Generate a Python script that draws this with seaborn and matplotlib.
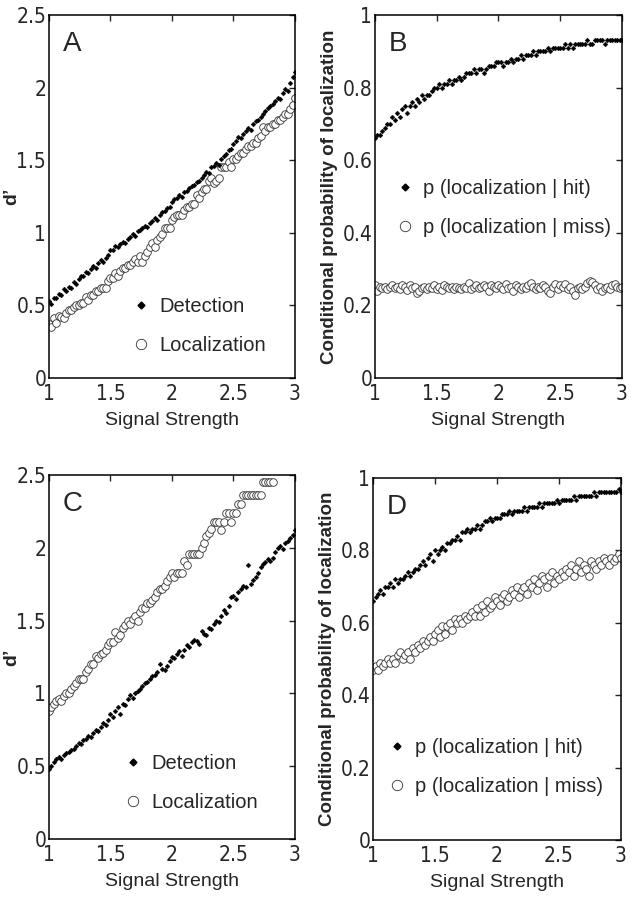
import numpy as np
import pandas as pd
import seaborn as sns
import matplotlib.pyplot as plt
from matplotlib import font_manager as fm
from matplotlib.lines import Line2D
from matplotlib.ticker import FuncFormatter

# signal strength grid (1 to 3, step 0.02)
signal = np.round(np.linspace(1, 3, 101), 2)

# panel A: d'
det_a = [0.53, 0.51, 0.55, 0.55, 0.58, 0.57, 0.61, 0.60, 0.63, 0.62, 0.66, 0.65, 0.68,
         0.70, 0.70, 0.73, 0.72, 0.75, 0.77, 0.76, 0.79, 0.81, 0.80, 0.83, 0.85, 0.88,
         0.88, 0.91, 0.90, 0.92, 0.94, 0.93, 0.96, 0.97, 0.99, 0.98, 1.01, 1.02,
         1.03, 1.05, 1.04, 1.07, 1.08, 1.10, 1.09, 1.12, 1.14, 1.15, 1.17, 1.18, 1.21,
         1.23, 1.24, 1.26, 1.25, 1.28, 1.29, 1.31, 1.32, 1.33, 1.35, 1.36, 1.38,
         1.40, 1.42, 1.41, 1.45, 1.46, 1.48, 1.47, 1.51, 1.53, 1.54, 1.57, 1.58, 1.61,
         1.63, 1.66, 1.65, 1.68, 1.70, 1.72, 1.71, 1.75, 1.77, 1.78, 1.80, 1.82,
         1.84, 1.86, 1.87, 1.89, 1.91, 1.93, 1.92, 1.96, 1.99, 1.98, 2.03, 2.07, 2.11]
loc_a = [0.37, 0.35, 0.41, 0.38, 0.43, 0.42, 0.41, 0.45, 0.47, 0.47, 0.49, 0.50, 0.50,
         0.52, 0.52, 0.56, 0.54, 0.57, 0.57, 0.60, 0.60, 0.62, 0.62, 0.62, 0.67, 0.69,
         0.69, 0.72, 0.70, 0.74, 0.76, 0.76, 0.78, 0.78, 0.80, 0.82, 0.80, 0.84,
         0.80, 0.84, 0.87, 0.90, 0.93, 0.90, 0.95, 0.97, 0.99, 1.03, 1.03, 1.03, 1.09,
         1.11, 1.12, 1.12, 1.12, 1.16, 1.18, 1.18, 1.20, 1.20, 1.26, 1.24, 1.28,
         1.30, 1.30, 1.36, 1.38, 1.34, 1.36, 1.38, 1.45, 1.45, 1.45, 1.49, 1.45, 1.51,
         1.51, 1.53, 1.55, 1.55, 1.58, 1.60, 1.60, 1.62, 1.62, 1.65, 1.67, 1.73,
         1.70, 1.73, 1.73, 1.75, 1.75, 1.78, 1.78, 1.80, 1.82, 1.82, 1.85, 1.88, 1.93]

# panel B: conditional probability
hit_b = [0.66, 0.67, 0.67, 0.68, 0.69, 0.70, 0.70, 0.72, 0.71, 0.73, 0.72, 0.74, 0.75,
         0.73, 0.75, 0.76, 0.75, 0.77, 0.76, 0.78, 0.77, 0.78, 0.78, 0.79, 0.80, 0.80,
         0.81, 0.80, 0.81, 0.81, 0.82, 0.81, 0.82, 0.82, 0.83, 0.82, 0.83, 0.84,
         0.84, 0.84, 0.85, 0.84, 0.85, 0.85, 0.84, 0.85, 0.86, 0.86, 0.86, 0.87, 0.87,
         0.87, 0.86, 0.87, 0.87, 0.88, 0.87, 0.88, 0.88, 0.89, 0.88, 0.89, 0.89,
         0.89, 0.90, 0.89, 0.90, 0.90, 0.90, 0.90, 0.91, 0.90, 0.91, 0.91, 0.91, 0.91,
         0.91, 0.92, 0.91, 0.92, 0.91, 0.92, 0.92, 0.92, 0.92, 0.92, 0.93, 0.92,
         0.92, 0.93, 0.93, 0.93, 0.93, 0.92, 0.93, 0.93, 0.93, 0.93, 0.93, 0.93, 0.93]
miss_b = [0.255, 0.240, 0.250, 0.248, 0.252, 0.245, 0.250, 0.255, 0.248, 0.252, 0.246, 0.255, 0.250,
          0.242, 0.255, 0.248, 0.250, 0.235, 0.240, 0.248, 0.252, 0.245, 0.250, 0.248, 0.255, 0.245,
          0.250, 0.242, 0.255, 0.250, 0.248, 0.252, 0.245, 0.250, 0.248, 0.245, 0.252, 0.248,
          0.262, 0.245, 0.250, 0.255, 0.248, 0.252, 0.256, 0.250, 0.240, 0.255, 0.252, 0.248, 0.255,
          0.250, 0.245, 0.258, 0.248, 0.252, 0.240, 0.255, 0.250, 0.245, 0.250, 0.248, 0.255,
          0.262, 0.250, 0.245, 0.252, 0.248, 0.255, 0.250, 0.240, 0.235, 0.250, 0.260, 0.245, 0.255,
          0.250, 0.258, 0.245, 0.250, 0.240, 0.230, 0.248, 0.252, 0.245, 0.250, 0.262, 0.268,
          0.265, 0.255, 0.245, 0.250, 0.240, 0.248, 0.252, 0.245, 0.255, 0.258, 0.250, 0.248, 0.252]

# panel C: d'
det_c = [0.48, 0.50, 0.53, 0.55, 0.56, 0.55, 0.58, 0.59, 0.60, 0.61, 0.62, 0.64, 0.66,
         0.65, 0.68, 0.69, 0.71, 0.70, 0.73, 0.75, 0.74, 0.77, 0.80, 0.78, 0.82, 0.86,
         0.84, 0.88, 0.91, 0.86, 0.93, 0.92, 0.96, 0.99, 0.97, 1.00, 1.02, 1.03,
         1.05, 1.07, 1.08, 1.10, 1.12, 1.13, 1.15, 1.20, 1.17, 1.16, 1.19, 1.22, 1.25,
         1.24, 1.27, 1.29, 1.26, 1.30, 1.33, 1.32, 1.35, 1.37, 1.36, 1.34, 1.43,
         1.41, 1.40, 1.45, 1.44, 1.48, 1.50, 1.49, 1.53, 1.57, 1.55, 1.60, 1.66, 1.67,
         1.65, 1.70, 1.72, 1.74, 1.73, 1.88, 1.75, 1.78, 1.80, 1.83, 1.87, 1.89,
         1.90, 1.92, 1.91, 1.93, 1.97, 2.00, 2.01, 1.99, 2.03, 2.05, 2.07, 2.09, 2.12]
# localization stops at 2.82
loc_c = [0.88, 0.91, 0.93, 0.95, 0.96, 0.95, 0.98, 1.00, 1.00, 1.03, 1.05, 1.07, 1.10,
         1.10, 1.10, 1.15, 1.17, 1.20, 1.20, 1.26, 1.24, 1.27, 1.28, 1.30, 1.33, 1.35,
         1.35, 1.42, 1.38, 1.40, 1.45, 1.47, 1.50, 1.48, 1.51, 1.53, 1.50, 1.56,
         1.59, 1.59, 1.62, 1.62, 1.64, 1.66, 1.70, 1.72, 1.72, 1.74, 1.77, 1.80, 1.83,
         1.80, 1.83, 1.83, 1.83, 1.91, 1.88, 1.96, 1.96, 1.96, 1.96, 1.96, 2.00,
         2.03, 2.08, 2.10, 2.13, 2.18, 2.18, 2.18, 2.12, 2.18, 2.24, 2.24, 2.18, 2.24,
         2.24, 2.30, 2.30, 2.36, 2.36, 2.36, 2.36, 2.36, 2.36, 2.36, 2.36, 2.45, 2.45, 2.45, 2.45, 2.45]

# panel D: conditional probability
hit_d = [0.66, 0.67, 0.68, 0.69, 0.68, 0.70, 0.70, 0.71, 0.70, 0.72, 0.71, 0.72, 0.72,
         0.73, 0.74, 0.73, 0.74, 0.75, 0.75, 0.76, 0.77, 0.76, 0.78, 0.79, 0.77, 0.80,
         0.79, 0.80, 0.81, 0.80, 0.82, 0.82, 0.83, 0.83, 0.84, 0.83, 0.85, 0.85,
         0.86, 0.85, 0.86, 0.86, 0.87, 0.86, 0.87, 0.88, 0.88, 0.89, 0.88, 0.89, 0.89,
         0.89, 0.90, 0.90, 0.90, 0.91, 0.90, 0.91, 0.91, 0.91, 0.91, 0.92, 0.91,
         0.92, 0.92, 0.92, 0.92, 0.93, 0.92, 0.93, 0.93, 0.93, 0.93, 0.93, 0.94, 0.93,
         0.94, 0.94, 0.94, 0.94, 0.94, 0.95, 0.94, 0.95, 0.95, 0.95, 0.95, 0.95,
         0.95, 0.96, 0.95, 0.96, 0.96, 0.96, 0.96, 0.96, 0.96, 0.96, 0.96, 0.97, 0.96]
miss_d = [0.47, 0.48, 0.47, 0.49, 0.48, 0.49, 0.50, 0.49, 0.50, 0.49, 0.51, 0.52, 0.50,
          0.51, 0.52, 0.50, 0.53, 0.52, 0.54, 0.53, 0.55, 0.54, 0.55, 0.56, 0.55, 0.57,
          0.58, 0.56, 0.59, 0.57, 0.59, 0.60, 0.58, 0.61, 0.60, 0.61, 0.60, 0.62,
          0.61, 0.62, 0.63, 0.62, 0.64, 0.62, 0.65, 0.63, 0.66, 0.64, 0.65, 0.67, 0.66,
          0.65, 0.67, 0.68, 0.66, 0.67, 0.69, 0.68, 0.70, 0.67, 0.69, 0.70, 0.68,
          0.71, 0.70, 0.72, 0.69, 0.71, 0.73, 0.72, 0.70, 0.73, 0.74, 0.71, 0.73, 0.72,
          0.74, 0.73, 0.75, 0.74, 0.76, 0.73, 0.75, 0.77, 0.74, 0.76, 0.75, 0.73,
          0.77, 0.76, 0.75, 0.77, 0.76, 0.78, 0.77, 0.76, 0.78, 0.77, 0.78, 0.79, 0.78]

sns.set_style("white")
plt.rcParams["font.family"] = ["Liberation Sans", "DejaVu Sans"]

# narrow face for tick numbers if one exists, else the regular face a bit smaller
narrow = [f for f in fm.fontManager.ttflist
          if "Narrow" in f.name or (f.name == "DejaVu Sans" and f.stretch == "condensed")]
if narrow:
    tick_prop = dict(family=narrow[0].name, stretch=narrow[0].stretch)
    tick_size = 15
else:
    tick_prop = dict(family="Liberation Sans")
    tick_size = 13

fig = plt.figure(figsize=(6.33, 8.99), dpi=100)

# axes rectangles: left, bottom, width, height (figure fraction)
rects = {
    "A": [0.0774, 0.5795, 0.3886, 0.4038],
    "B": [0.5924, 0.5795, 0.3902, 0.4038],
    "C": [0.0774, 0.0667, 0.3886, 0.4049],
    "D": [0.5893, 0.0656, 0.3918, 0.4027],
}

dot_kw = dict(marker="D", s=6, color="black", edgecolor="black", linewidth=0.3)
ring_kw = dict(marker="o", s=30, facecolor="white", edgecolor="#333333", linewidth=0.6)

panels = [
    ("A", det_a, signal, loc_a, signal, (0, 2.5), [0, 0.5, 1, 1.5, 2, 2.5], "d\u2019",
     ["Detection", "Localization"], (0.275, 0.025), False),
    ("B", hit_b, signal, miss_b, signal, (0, 1), [0, 0.2, 0.4, 0.6, 0.8, 1],
     "Conditional probability of localization",
     ["p (localization | hit)", "p (localization | miss)"], (0.025, 0.35), True),
    ("C", det_c, signal, loc_c, signal[:len(loc_c)], (0, 2.5), [0, 0.5, 1, 1.5, 2, 2.5], "d\u2019",
     ["Detection", "Localization"], (0.245, 0.035), False),
    ("D", hit_d, signal, miss_d, signal, (0, 1), [0, 0.2, 0.4, 0.6, 0.8, 1],
     "Conditional probability of localization",
     ["p (localization | hit)", "p (localization | miss)"], (0.0, 0.083), True),
]

fmt = FuncFormatter(lambda v, p: "%g" % v)

for name, y1, x1, y2, x2, ylim, yticks, ylabel, labels, lpos, long_label in panels:
    ax = fig.add_axes(rects[name])
    sns.scatterplot(x=x2, y=y2, ax=ax, zorder=2, **ring_kw)
    sns.scatterplot(x=x1, y=y1, ax=ax, zorder=3, **dot_kw)
    ax.set_xlim(1, 3)
    ax.set_ylim(*ylim)
    ax.set_xticks([1, 1.5, 2, 2.5, 3])
    ax.set_yticks(yticks)
    ax.xaxis.set_major_formatter(fmt)
    ax.yaxis.set_major_formatter(fmt)
    ax.tick_params(direction="in", top=True, right=True, length=4, width=1,
                   labelsize=tick_size)
    ax.tick_params(axis="x", pad=4)
    ax.tick_params(axis="y", pad=2)
    for lab in ax.get_xticklabels() + ax.get_yticklabels():
        lab.set(**tick_prop)
    for sp in ax.spines.values():
        sp.set_visible(True)
        sp.set_linewidth(1.1)
        sp.set_color("black")
    ax.set_xlabel("Signal Strength", fontsize=14, labelpad=6)
    if long_label:
        ax.set_ylabel(ylabel, fontsize=13.5, fontweight="bold", labelpad=3)
    else:
        ax.set_ylabel(ylabel, fontsize=14, fontweight="bold")
        ax.yaxis.set_label_coords(-0.118, 0.5)
    ax.text(0.055, 0.955, name, transform=ax.transAxes, fontsize=20,
            ha="left", va="top")
    handles = [
        Line2D([], [], linestyle="none", marker="D", markersize=3.5,
               color="black"),
        Line2D([], [], linestyle="none", marker="o", markersize=7.5,
               markerfacecolor="white", markeredgecolor="#333333",
               markeredgewidth=0.6),
    ]
    ax.legend(handles, labels, loc="lower left", bbox_to_anchor=lpos,
              frameon=False, fontsize=14.5, handlelength=1.0,
              handletextpad=0.4, labelspacing=1.0, borderpad=0.2)

fig.savefig("out.png", dpi=100)
